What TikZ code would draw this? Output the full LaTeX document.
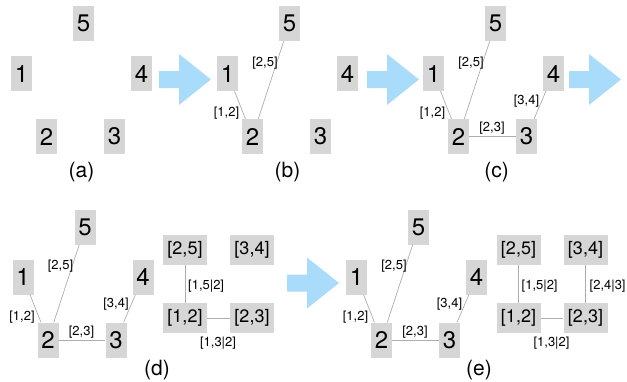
\documentclass[tikz,border=0pt]{standalone}
\usepackage{fontspec}
\setmainfont{TeX Gyre Heros}
\definecolor{boxgray}{HTML}{D6D6D6}
\definecolor{linegray}{HTML}{ADADAD}
\definecolor{arrowblue}{HTML}{A9DCFB}
% Draws the five vertices of the tree at their fixed places
\newcommand\vertexset{%
  \node[vbox] (n1) at (21.5,73.5) {1};
  \node[vbox] (n5) at (83.5,23.5) {5};
  \node[vbox] (n4) at (141.5,73.5) {4};
  \node[vbox] (n2) at (46.5,136.5) {2};
  \node[vbox] (n3) at (114.5,136.5) {3};
}
\newcommand\linkonetwo{%
  \draw[link] (n1) -- (n2);
  \node[elabel] (l12) at (20.5,113.5) {[1,2]};
}
\newcommand\linktwofive{%
  \draw[link] (n2) -- (n5);
  \node[elabel] (l25) at (59,63) {[2,5]};
}
\newcommand\linktwothree{%
  \draw[link] (n2) -- (n3);
  \node[elabel] (l23) at (80,128.5) {[2,3]};
}
\newcommand\linkthreefour{%
  \draw[link] (n3) -- (n4);
  \node[elabel] (l34) at (114.5,101) {[3,4]};
}
% The derived graph on the edges of the tree
\newcommand\edgegraph{%
  \node[sbox] (a25) at (183.5,46.5) {[2,5]};
  \node[sbox] (a34) at (250.5,46.5) {[3,4]};
  \node[sbox] (a12) at (183.5,114.5) {[1,2]};
  \node[sbox] (a23) at (250.5,114.5) {[2,3]};
  \draw[link] (a25) -- (a12);
  \draw[link] (a12) -- (a23);
  \node[elabel, anchor=west] (m152) at (186.5,82.5) {[1,5|2]};
  \node[elabel] (m132) at (216.5,139.5) {[1,3|2]};
}
\begin{document}
\begin{tikzpicture}[x=1pt,y=-1pt,
  vbox/.style={fill=boxgray, minimum width=21pt, minimum height=35pt,
    inner sep=0pt, font=\fontsize{24}{24}\selectfont},
  sbox/.style={fill=boxgray, minimum width=44pt, minimum height=30pt,
    inner sep=0pt, font=\fontsize{18}{18}\selectfont},
  elabel/.style={inner sep=0pt, font=\fontsize{13}{13}\selectfont},
  link/.style={draw=linegray, line width=0.7pt},
  caption/.style={inner sep=0pt, font=\fontsize{21}{21}\selectfont},
  bigarrow/.pic={\fill[arrowblue] (0,-8.5) -- (20,-8.5) -- (20,-25.5)
    -- (52,0) -- (20,25.5) -- (20,8.5) -- (0,8.5) -- cycle;}
]
\useasboundingbox (0,0) rectangle (627,381);

% (a) the bare vertices
\begin{scope}[name prefix=a-]
  \vertexset
\end{scope}
\node[caption] (capa) at (81.5,172.5) {(a)};
\pic at (159,79.5) {bigarrow};

% (b) two edges added
\begin{scope}[shift={(206,0)}, name prefix=b-]
  \vertexset
  \linkonetwo
  \linktwofive
\end{scope}
\node[caption] (capb) at (287.5,172.5) {(b)};
\pic at (367,79.5) {bigarrow};

% (c) the complete tree
\begin{scope}[shift={(412,0)}, name prefix=c-]
  \vertexset
  \linkonetwo
  \linktwofive
  \linktwothree
  \linkthreefour
\end{scope}
\node[caption] (capc) at (496.5,172.5) {(c)};
\pic at (569,79.5) {bigarrow};

% (d) tree with its edge graph
\begin{scope}[shift={(1.5,203.5)}, name prefix=d-]
  \vertexset
  \linkonetwo
  \linktwofive
  \linktwothree
  \linkthreefour
  \edgegraph
\end{scope}
\node[caption] (capd) at (157,370) {(d)};
\pic at (287,283) {bigarrow};

% (e) edge graph completed
\begin{scope}[shift={(335,203.5)}, name prefix=e-]
  \vertexset
  \linkonetwo
  \linktwofive
  \linktwothree
  \linkthreefour
  \edgegraph
  \draw[link] (a34) -- (a23);
  \node[elabel, anchor=west] (m243) at (254.5,82.5) {[2,4|3]};
\end{scope}
\node[caption] (cape) at (479,370) {(e)};
\end{tikzpicture}
\end{document}
